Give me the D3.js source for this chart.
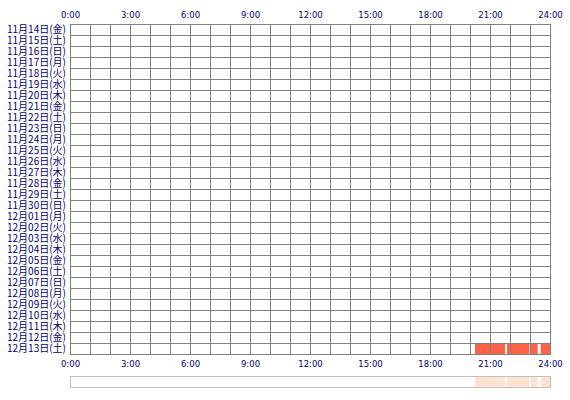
<!DOCTYPE html>
<html>
<head>
<meta charset="utf-8">
<script src="https://cdn.jsdelivr.net/npm/d3@7"></script>
<style>
  body { margin: 0; background: #fff; }
  svg text { fill: #000080; }
</style>
</head>
<body>
<svg id="chart" width="570" height="400"></svg>
<script>
const days = [
  "11月14日(金)","11月15日(土)","11月16日(日)","11月17日(月)","11月18日(火)",
  "11月19日(水)","11月20日(木)","11月21日(金)","11月22日(土)","11月23日(日)",
  "11月24日(月)","11月25日(火)","11月26日(水)","11月27日(木)","11月28日(金)",
  "11月29日(土)","11月30日(日)","12月01日(月)","12月02日(火)","12月03日(水)",
  "12月04日(木)","12月05日(金)","12月06日(土)","12月07日(日)","12月08日(月)",
  "12月09日(火)","12月10日(水)","12月11日(木)","12月12日(金)","12月13日(土)"
];
const hourTicks = [0, 180, 360, 540, 720, 900, 1080, 1260, 1440];
const tickLabels = ["0:00","3:00","6:00","9:00","12:00","15:00","18:00","21:00","24:00"];
// active periods, minutes from midnight
const activeDay = "12月13日(土)";
const activeStart = [1215, 1311, 1382, 1412];
const activeEnd   = [1305, 1378, 1403, 1440];

const svg = d3.select("#chart");
const gLeft = 70, gRight = 550, gTop = 24, gBottom = 354;

const x = d3.scaleLinear().domain([0, 1440]).range([gLeft, gRight]);
const y = d3.scaleBand().domain(days).range([gTop, gBottom]);

const segs = activeStart.map((s, i) => ({s: s, e: activeEnd[i]}));

// bars
svg.append("g").selectAll("rect").data(segs)
  .enter().append("rect")
    .attr("x", d => x(d.s))
    .attr("y", y(activeDay) + 1)
    .attr("width", d => x(d.e) - x(d.s))
    .attr("height", y.bandwidth() - 1)
    .attr("fill", "#ff6347");

// grid
const grid = svg.append("g").attr("stroke", "#808080").attr("stroke-width", 1);
grid.selectAll(".v").data(d3.range(0, 1441, 60))
  .enter().append("line")
    .attr("x1", d => Math.round(x(d)) + 0.5).attr("x2", d => Math.round(x(d)) + 0.5)
    .attr("y1", gTop).attr("y2", gBottom + 1);
grid.selectAll(".h").data(days.concat(["end"]))
  .enter().append("line")
    .attr("x1", gLeft).attr("x2", gRight + 1)
    .attr("y1", (d, i) => gTop + i * y.bandwidth() + 0.5)
    .attr("y2", (d, i) => gTop + i * y.bandwidth() + 0.5);

// day labels
svg.append("g").selectAll("text").data(days)
  .enter().append("text")
    .attr("x", 66)
    .attr("y", d => y(d) + y.bandwidth() - 2)
    .attr("text-anchor", "end")
    .attr("textLength", 59)
    .attr("lengthAdjust", "spacingAndGlyphs")
    .style("font-family", "'Noto Sans CJK JP', sans-serif")
    .style("font-size", "10.5px")
    .text(d => d);

// hour labels top and bottom
[18, 367].forEach(ty => {
  svg.append("g").selectAll("text").data(hourTicks)
    .enter().append("text")
      .attr("x", d => x(d) + 0.5)
      .attr("y", ty)
      .attr("text-anchor", "middle")
      .style("font-family", "'DejaVu Sans', Verdana, sans-serif")
      .style("font-size", "8.5px")
      .text((d, i) => tickLabels[i]);
});

// overview strip
const strip = svg.append("g");
strip.selectAll("rect").data(segs)
  .enter().append("rect")
    .attr("x", d => x(d.s))
    .attr("y", 376)
    .attr("width", d => x(d.e) - x(d.s))
    .attr("height", 12)
    .attr("fill", "#ffe2d2");
strip.append("rect")
  .attr("x", gLeft + 0.5).attr("y", 376.5)
  .attr("width", gRight - gLeft).attr("height", 11)
  .attr("fill", "none").attr("stroke", "#c0c0c0");
</script>
</body>
</html>
